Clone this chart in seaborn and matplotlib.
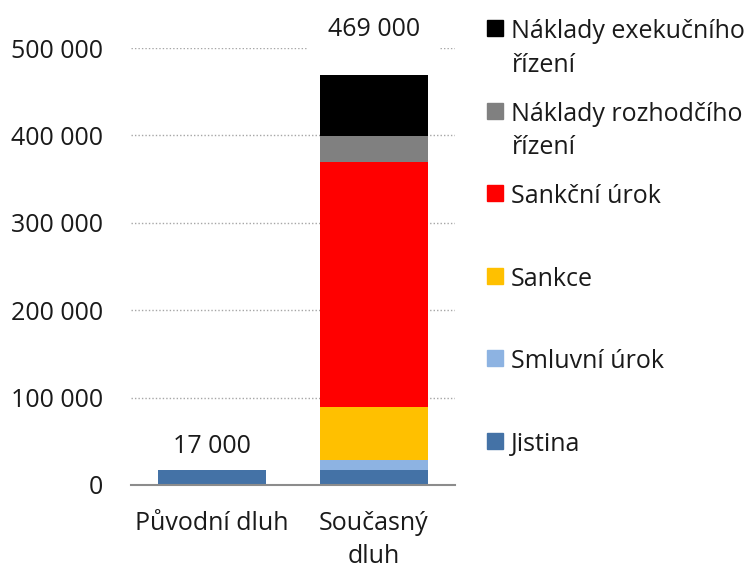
import matplotlib
matplotlib.use("Agg")
import matplotlib.pyplot as plt
from matplotlib.patches import Rectangle
import numpy as np
import seaborn as sns

categories = ["Původní dluh", "Současný\ndluh"]
series = ["Jistina", "Smluvní úrok", "Sankce", "Sankční úrok",
          "Náklady rozhodčího\nřízení", "Náklady exekučního\nřízení"]
jistina = [17000, 17000]
smluvni_urok = [0, 12000]
sankce = [0, 60000]
sankcni_urok = [0, 280000]
rozhodci = [0, 30000]
exekucni = [0, 70000]
totals = [17000, 469000]
colors = ["#4472A6", "#8DB3E2", "#FFC000", "#FF0000", "#808080", "#000000"]

values = np.array([jistina, smluvni_urok, sankce, sankcni_urok, rozhodci, exekucni])
cumulative = values.cumsum(axis=0)

sns.set_style("white")
plt.rcParams["font.family"] = ["Open Sans", "DejaVu Sans"]

W, H = 747, 569
fig = plt.figure(figsize=(W / 100, H / 100), dpi=100)
ax = fig.add_axes([131 / W, 1 - 485 / H, (455 - 131) / W, (485 - 48) / H])

# stack by drawing cumulative bars from the tallest down
for i in range(len(series) - 1, -1, -1):
    sns.barplot(x=categories, y=cumulative[i], color=colors[i], saturation=1,
                width=0.667, ax=ax, edgecolor="none", linewidth=0, zorder=2)

ax.set_xlim(-0.5, 1.5)
ax.set_ylim(0, 500000)
ax.set_yticks(range(0, 500001, 100000))
ax.set_yticklabels([f"{v:,}".replace(",", " ") for v in range(0, 500001, 100000)])
ax.yaxis.grid(True, linestyle=(0, (1, 1.5)), color="#a6a6a6", linewidth=1, zorder=0)
ax.set_axisbelow(True)
for s in ["left", "right", "top"]:
    ax.spines[s].set_visible(False)
ax.spines["bottom"].set_color("#8c8c8c")
ax.spines["bottom"].set_linewidth(1.5)
ax.spines["bottom"].set_zorder(3)
ax.tick_params(axis="y", length=0, pad=20, labelsize=18, labelcolor="#1a1a1a")
ax.tick_params(axis="x", length=0, pad=19, labelsize=18, labelcolor="#1a1a1a")
for lbl in ax.get_xticklabels():
    lbl.set_linespacing(1.4)
ax.set_xlabel("")
ax.set_ylabel("")

offsets = [17, 33]
for j, t in enumerate(totals):
    box = dict(boxstyle="square,pad=0.8", fc="white", ec="none") if j == 1 else None
    ax.annotate(f"{t:,}".replace(",", " "), (j, t), xytext=(0, offsets[j]),
                textcoords="offset points", ha="center", va="center",
                fontsize=18, color="#1a1a1a", annotation_clip=False, zorder=5,
                bbox=box)

# legend, top entry first
order = list(range(len(series) - 1, -1, -1))
for k, i in enumerate(order):
    yc = 28 + k * 82.6
    fig.patches.append(Rectangle((487 / W, 1 - (yc + 8) / H), 16 / W, 16 / H,
                                 transform=fig.transFigure, color=colors[i]))
    fig.text(511 / W, 1 - (yc - 9) / H, series[i], va="top", ha="left",
             fontsize=18, color="#1a1a1a", linespacing=1.45)

fig.savefig("out.png", dpi=100)
